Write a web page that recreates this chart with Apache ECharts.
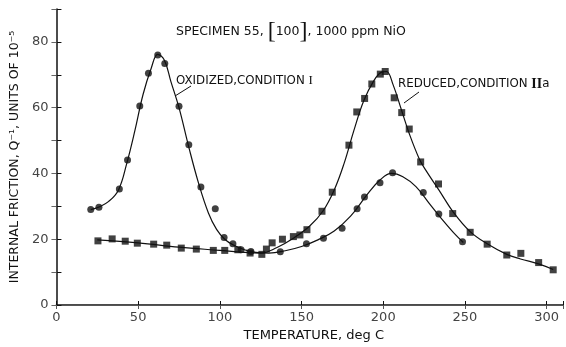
<!DOCTYPE html>
<html>
<head>
<meta charset="utf-8">
<script src="https://cdn.jsdelivr.net/npm/echarts@6/dist/echarts.min.js"></script>
<style>
  html, body { margin: 0; padding: 0; background: #fff; }
  #chart { width: 566px; height: 347px; }
</style>
</head>
<body>
<div id="chart"></div>
<script>
// measured points, [temperature degC, Q^-1 x 1e5]
const oxidizedPoints = [
  [21, 29.0], [26, 29.7], [38.5, 35.3], [43.5, 44.1], [51, 60.5], [56.3, 70.5],
  [62, 76.0], [66.3, 73.4], [75, 60.4], [81, 48.7], [88.4, 35.9], [97.2, 29.3],
  [102.6, 20.5], [108, 18.6], [113, 16.8], [119, 16.3], [137, 16.2], [153, 18.6],
  [163.4, 20.3], [174.8, 23.3], [184, 29.3], [188.5, 32.8], [198, 37.2],
  [205.7, 40.2], [224.5, 34.2], [234, 27.7], [248.5, 19.2]
];
const reducedPoints = [
  [25.4, 19.5], [34.1, 20.1], [42.1, 19.4], [49.5, 18.8], [59.5, 18.5], [67.5, 18.2],
  [76.4, 17.3], [85.6, 17.0], [96, 16.6], [103, 16.6], [111, 16.8], [118.5, 15.8],
  [125.7, 15.4], [128.5, 17.0], [132, 18.9], [138.3, 20.0], [145, 20.8], [149, 21.3],
  [153.3, 22.9], [162.5, 28.5], [168.8, 34.3], [179, 48.6], [183.8, 58.7],
  [188.6, 62.8], [193, 67.2], [198.2, 70.2], [201.2, 71.0], [206.7, 63.0],
  [211.3, 58.5], [215.9, 53.5], [222.9, 43.5], [233.8, 36.8], [242.5, 27.8],
  [253.2, 22.1], [263.6, 18.5], [275.6, 15.2], [284.2, 15.7], [295.1, 12.9], [304, 10.7]
];
// hand drawn fitted curves
const oxidizedCurve = [
  [21, 29], [26, 29.8], [32, 31.5], [38, 35], [43, 43], [48, 53], [53, 64], [58, 72],
  [62, 76.2], [66, 74.5], [70, 68], [75, 60], [81, 48], [87, 37], [93, 28], [98, 23],
  [103, 20], [108, 18.3], [115, 16.8], [122, 16], [130, 15.8], [140, 16.5], [150, 17.8],
  [160, 19.8], [170, 22.5], [180, 27], [190, 33.5], [198, 38], [205, 40], [212, 39],
  [220, 36], [228, 31], [236, 26], [243, 22], [249, 19]
];
const reducedCurve = [
  [25, 19.8], [50, 18.9], [75, 17.6], [100, 16.6], [115, 16.0], [125, 15.8], [135, 17.5],
  [145, 20.3], [155, 24], [163, 28.5], [170, 35], [176, 43], [182, 53], [188, 62],
  [194, 68], [199, 70.8], [202, 71], [206, 67], [211, 59.5], [216, 52], [222, 44.5],
  [226, 41], [234, 35], [242.5, 28.5], [253, 22.4], [263.6, 18.6], [275.6, 15.4],
  [284, 14.0], [295, 12.5], [304, 10.8]
];
const xTicks = [0, 50, 100, 150, 200, 250, 300];
const yTicks = [0, 20, 40, 60, 80];

const chart = echarts.init(document.getElementById('chart'));
const font = 'DejaVu Sans';
const ink = '#111';

const option = {
  animation: false,
  backgroundColor: '#fff',
  grid: { left: 51, right: 0, top: 9, bottom: 39 },
  xAxis: [
    {
      type: 'value', min: 0, max: 310, interval: 50,
      name: 'TEMPERATURE, deg C', nameLocation: 'middle', nameGap: 24,
      nameTextStyle: { fontFamily: font, fontSize: 13, color: ink, padding: [0, 0, 0, 8] },
      axisLine: { lineStyle: { color: ink, width: 1.5 } },
      axisTick: { inside: true, length: 4, lineStyle: { color: ink } },
      axisLabel: {
        fontFamily: font, fontSize: 13, color: '#444', margin: 6,
        formatter: v => xTicks.includes(v) ? String(v) : ''
      },
      splitLine: { show: false }
    },
    {
      type: 'value', position: 'top', min: 0, max: 310, interval: 50,
      axisLine: { lineStyle: { color: '#555', width: 1 } },
      axisTick: { inside: true, length: 4, lineStyle: { color: '#555' } },
      axisLabel: { show: false },
      splitLine: { show: false }
    }
  ],
  yAxis: [
    {
      type: 'value', min: 0, max: 90, interval: 10,
      name: 'INTERNAL FRICTION, Q\u207B\u00B9, UNITS OF 10\u207B\u2075',
      nameLocation: 'middle', nameGap: 32, nameRotate: 90,
      nameTextStyle: { fontFamily: font, fontSize: 12.5, color: ink },
      axisLine: { show: true, lineStyle: { color: ink, width: 1.5 } },
      axisTick: { inside: true, length: 5, lineStyle: { color: ink } },
      axisLabel: {
        fontFamily: font, fontSize: 13, color: '#444', margin: 8,
        formatter: v => yTicks.includes(v) ? String(v) : ''
      },
      splitLine: { show: false }
    },
    {
      type: 'value', position: 'right', min: 0, max: 90, interval: 10,
      offset: 4,
      axisLine: { show: false },
      axisTick: { show: true, inside: true, length: 5, lineStyle: { color: '#666' } },
      axisLabel: { show: false },
      splitLine: { show: false }
    }
  ],
  series: [
    {
      name: 'oxidized curve', type: 'line', data: oxidizedCurve, smooth: 0.4,
      showSymbol: false, lineStyle: { color: ink, width: 1.2 }
    },
    {
      name: 'reduced curve', type: 'line', data: reducedCurve, smooth: 0.4,
      showSymbol: false, lineStyle: { color: ink, width: 1.2 }
    },
    {
      name: 'OXIDIZED, CONDITION I', type: 'scatter', data: oxidizedPoints,
      symbol: 'circle', symbolSize: 7, itemStyle: { color: ink }
    },
    {
      name: 'REDUCED, CONDITION IIa', type: 'scatter', data: reducedPoints,
      symbol: 'rect', symbolSize: 7, itemStyle: { color: ink }
    }
  ],
  graphic: [
    {
      type: 'text', left: 176, top: 20,
      style: {
        text: 'SPECIMEN 55, {b|[}100{b|]}, 1000 ppm NiO',
        fontFamily: font, fontSize: 12.5, fill: ink,
        rich: { b: { fontSize: 24, fontFamily: 'Liberation Serif', fill: ink } }
      }
    },
    {
      type: 'text', left: 176, top: 74,
      style: {
        text: 'OXIDIZED,CONDITION {r|I}',
        fontFamily: font, fontSize: 11.8, fill: ink,
        rich: { r: { fontFamily: 'Liberation Serif', fontSize: 13, fill: ink } }
      }
    },
    {
      type: 'line',
      shape: { x1: 191, y1: 86, x2: 175, y2: 96 },
      style: { stroke: ink, lineWidth: 1 }
    },
    {
      type: 'text', left: 398, top: 77,
      style: {
        text: 'REDUCED,CONDITION {r|II}a',
        fontFamily: font, fontSize: 11.8, fill: ink,
        rich: { r: { fontFamily: 'Liberation Serif', fontWeight: 'bold', fontSize: 14, fill: ink } }
      }
    },
    {
      type: 'line',
      shape: { x1: 419, y1: 92, x2: 404, y2: 103 },
      style: { stroke: ink, lineWidth: 1 }
    }
  ]
};

chart.setOption(option);
</script>
</body>
</html>
